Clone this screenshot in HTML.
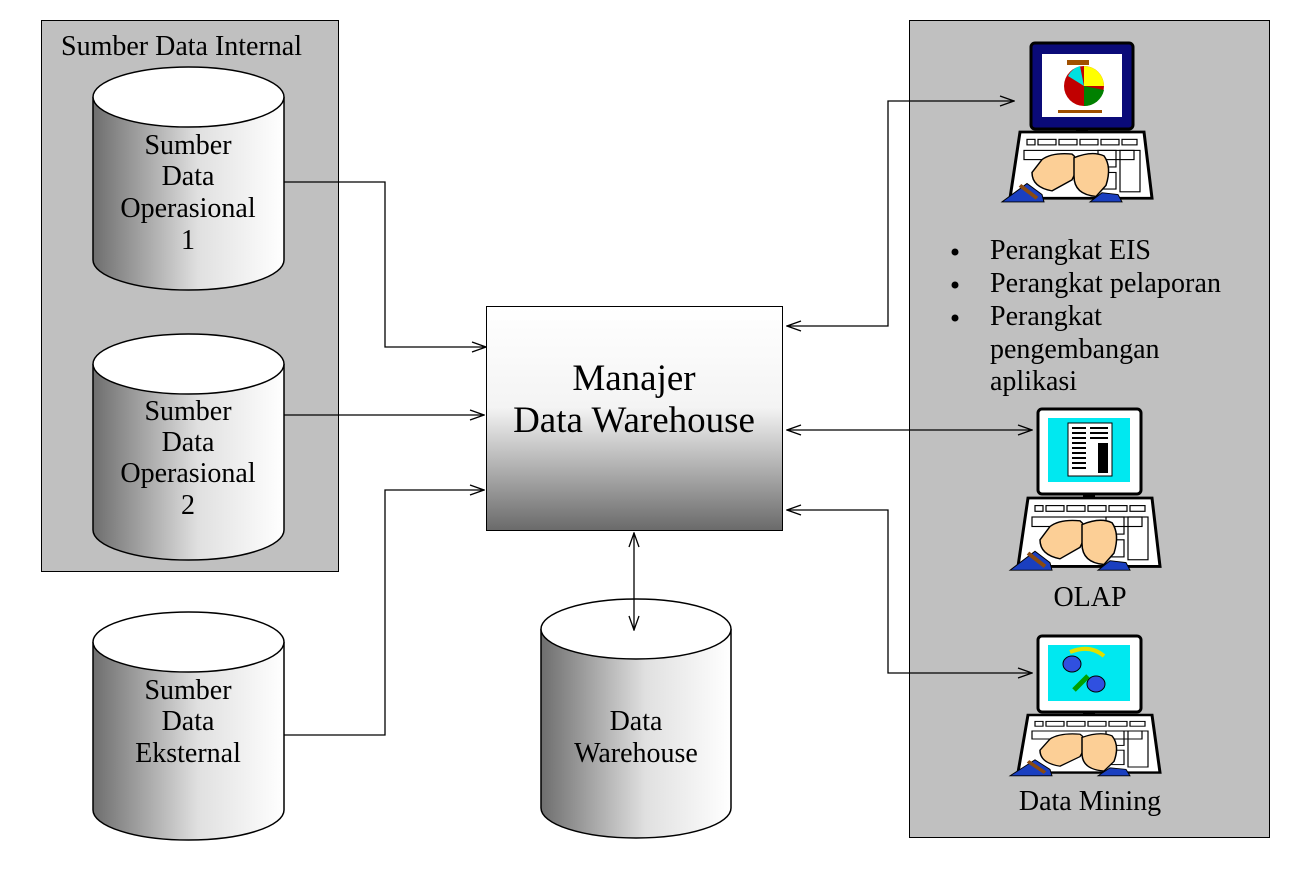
<!DOCTYPE html>
<html><head><meta charset="utf-8"><style>
body{margin:0;background:#fff;width:1305px;height:891px;overflow:hidden}
svg text{font-family:"Liberation Serif",serif;fill:#000}
</style></head><body>
<svg width="1305" height="891" viewBox="0 0 1305 891" xmlns="http://www.w3.org/2000/svg">
<defs>
<linearGradient id="cyl" x1="0" x2="1" y1="0" y2="0">
<stop offset="0" stop-color="#6e6e6e"/><stop offset="0.55" stop-color="#e0e0e0"/><stop offset="1" stop-color="#fff"/></linearGradient>
<linearGradient id="box" x1="0" x2="0" y1="0" y2="1">
<stop offset="0" stop-color="#fff"/><stop offset="0.45" stop-color="#f4f4f4"/><stop offset="1" stop-color="#6a6a6a"/></linearGradient>
<marker id="ar" markerWidth="16" markerHeight="12" refX="15" refY="6" orient="auto-start-reverse" markerUnits="userSpaceOnUse">
<path d="M1,1 L15,6 L1,11" fill="none" stroke="#000" stroke-width="1.3"/></marker>
<g id="kb">
<path d="M-62,0 L62,0 L70,72 L-72,72 Z" fill="#fff" stroke="#000" stroke-width="3"/>
<g fill="none" stroke="#000" stroke-width="1.2">
<rect x="-55" y="8" width="8" height="6"/><rect x="-44" y="8" width="18" height="6"/><rect x="-23" y="8" width="18" height="6"/><rect x="-2" y="8" width="18" height="6"/><rect x="19" y="8" width="18" height="6"/><rect x="40" y="8" width="15" height="6"/>
<rect x="-58" y="20" width="110" height="10"/><rect x="16" y="20" width="18" height="18"/><rect x="38" y="20" width="20" height="45"/><rect x="16" y="44" width="18" height="18"/>
</g>
<path d="M-40,30 q10,-8 30,-6 q10,8 0,28 l-20,12 q-20,-4 -20,-20 Z" fill="#fccf96" stroke="#000" stroke-width="1.5"/>
<path d="M-8,28 q18,-8 30,-2 q8,12 2,32 l-10,12 q-22,-2 -22,-22 Z" fill="#fccf96" stroke="#000" stroke-width="1.5"/>
<path d="M-80,76 L-55,56 L-40,68 L-38,76 Z" fill="#1a3fc0" stroke="#000"/>
<path d="M-62,58 L-45,72" stroke="#8a4a10" stroke-width="4"/>
<path d="M8,76 L20,66 L36,68 L40,76 Z" fill="#1a3fc0" stroke="#000"/>
</g>
</defs>
<rect x="41.5" y="20.5" width="297" height="551" fill="#c0c0c0" stroke="#000"/>
<rect x="909.5" y="20.5" width="360" height="817" fill="#c0c0c0" stroke="#000"/>
<text x="61" y="55" font-size="28" textLength="241">Sumber Data Internal</text>

<g stroke="#000" stroke-width="1.5">
<path d="M93,97 V260 A95.5,30 0 0 0 284,260 V97" fill="url(#cyl)"/><ellipse cx="188.5" cy="97" rx="95.5" ry="30" fill="#fff"/>
<path d="M93,364 V530 A95.5,30 0 0 0 284,530 V364" fill="url(#cyl)"/><ellipse cx="188.5" cy="364" rx="95.5" ry="30" fill="#fff"/>
<path d="M93,642 V810 A95.5,30 0 0 0 284,810 V642" fill="url(#cyl)"/><ellipse cx="188.5" cy="642" rx="95.5" ry="30" fill="#fff"/>
<path d="M541,629 V808 A95,30 0 0 0 731,808 V629" fill="url(#cyl)"/><ellipse cx="636" cy="629" rx="95" ry="30" fill="#fff"/>
</g>
<g font-size="28" text-anchor="middle">
<text x="188" y="154">Sumber</text><text x="188" y="185">Data</text><text x="188" y="217">Operasional</text><text x="188" y="249">1</text>
<text x="188" y="420">Sumber</text><text x="188" y="451">Data</text><text x="188" y="482">Operasional</text><text x="188" y="514">2</text>
<text x="188" y="699">Sumber</text><text x="188" y="730">Data</text><text x="188" y="762">Eksternal</text>
<text x="636" y="730">Data</text><text x="636" y="762">Warehouse</text>
</g>

<rect x="486.5" y="306.5" width="296" height="224" fill="url(#box)" stroke="#000"/>
<text x="634" y="390" font-size="37" text-anchor="middle">Manajer</text>
<text x="634" y="432" font-size="37" text-anchor="middle">Data Warehouse</text>

<g fill="none" stroke="#000" stroke-width="1.3">
<path d="M284,182 H385 V347 H486" marker-end="url(#ar)"/>
<path d="M284,415 H484" marker-end="url(#ar)"/>
<path d="M284,735 H385 V490 H484" marker-end="url(#ar)"/>
<path d="M634,533 V630" marker-start="url(#ar)" marker-end="url(#ar)"/>
<path d="M787,326 H888 V101 H1014" marker-start="url(#ar)" marker-end="url(#ar)"/>
<path d="M787,430 H1032" marker-start="url(#ar)" marker-end="url(#ar)"/>
<path d="M787,510 H888 V673 H1032" marker-start="url(#ar)" marker-end="url(#ar)"/>
</g>

<rect x="1031" y="43" width="102" height="86" rx="4" fill="#0a0a78" stroke="#000" stroke-width="3"/>
<rect x="1042" y="54" width="80" height="63" fill="#fff"/>
<circle cx="1084" cy="86" r="20" fill="#c00000"/>
<path d="M1084,86 L1084,66 A20,20 0 0 1 1104,86 Z" fill="#ffff00"/>
<path d="M1084,86 L1104,90 A20,20 0 0 1 1084,106 Z" fill="#008000"/>
<path d="M1084,86 L1068,76 A20,20 0 0 1 1080,66 Z" fill="#00e0e0"/>
<rect x="1058" y="110" width="44" height="3" fill="#a05000"/>
<rect x="1067" y="60" width="22" height="5" fill="#a05000"/>
<rect x="1076" y="129" width="12" height="3" fill="#000"/>
<g transform="translate(1082,132) scale(1,0.92)"><use href="#kb"/></g>

<g font-size="28">
<circle cx="955" cy="252" r="3.5" fill="#000"/><text x="990" y="259">Perangkat EIS</text>
<circle cx="955" cy="285" r="3.5" fill="#000"/><text x="990" y="292" textLength="231">Perangkat pelaporan</text>
<circle cx="955" cy="318" r="3.5" fill="#000"/><text x="990" y="325">Perangkat</text>
<text x="990" y="358">pengembangan</text><text x="990" y="390">aplikasi</text>
</g>

<rect x="1038" y="409" width="103" height="85" rx="4" fill="#fff" stroke="#000" stroke-width="3"/>
<rect x="1048" y="418" width="82" height="64" fill="#00e8f0"/>
<rect x="1068" y="423" width="44" height="53" fill="#fff" stroke="#000"/>
<g stroke="#000" stroke-width="2"><path d="M1072,428h14M1072,433h14M1072,438h14M1072,443h14M1072,448h14M1072,453h14M1072,458h14M1072,463h14M1072,468h14M1090,428h18M1090,433h18M1090,438h18"/></g>
<rect x="1098" y="443" width="10" height="30" fill="#000"/>
<rect x="1083" y="494" width="12" height="4" fill="#000"/>
<g transform="translate(1090,498) scale(1,0.95)"><use href="#kb"/></g>
<text x="1090" y="606" font-size="28" text-anchor="middle">OLAP</text>

<rect x="1038" y="636" width="103" height="76" rx="4" fill="#fff" stroke="#000" stroke-width="3"/>
<rect x="1048" y="645" width="82" height="56" fill="#00e8f0"/>
<ellipse cx="1072" cy="664" rx="9" ry="8" fill="#3050e0" stroke="#000"/>
<ellipse cx="1096" cy="684" rx="9" ry="8" fill="#3050e0" stroke="#000"/>
<path d="M1070,652 q20,-8 34,4" stroke="#e0e000" stroke-width="4" fill="none"/>
<path d="M1074,690 l14,-14" stroke="#00a000" stroke-width="5"/>
<rect x="1083" y="712" width="12" height="4" fill="#000"/>
<g transform="translate(1090,715) scale(1,0.8)"><use href="#kb"/></g>
<text x="1090" y="810" font-size="28" text-anchor="middle">Data Mining</text>
</svg>
</body></html>
